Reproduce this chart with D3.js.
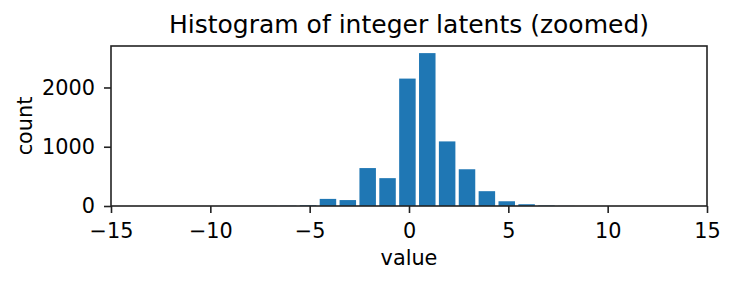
<!DOCTYPE html>
<html lang="en">
<head>
<meta charset="utf-8">
<script src="https://d3js.org/d3.v7.min.js"></script>
<style>
  body { margin: 0; background: #fff; }
  text { font-family: "DejaVu Sans", sans-serif; fill: #000; }
</style>
</head>
<body>
<script>
// integer latent values and their counts
var values = [-7, -6, -5, -4, -3, -2, -1, 0, 1, 2, 3, 4, 5, 6, 7, 8];
var counts = [2, 5, 12, 120, 100, 640, 470, 2150, 2580, 1090, 620, 250, 80, 30, 8, 2];
var xTicks = [-15, -10, -5, 0, 5, 10, 15];
var yTicks = [0, 1000, 2000];

var W = 735, H = 284;
var mLeft = 111, mRight = 707, mTop = 46, mBottom = 206;

var svg = d3.select("body").append("svg")
  .attr("width", W).attr("height", H);

var x = d3.scaleLinear().domain([-15, 15]).range([mLeft, mRight]);
var y = d3.scaleLinear().domain([0, 2700]).range([mBottom, mTop]);

// bars (slightly narrower than a unit, offset like the hist bins)
var bw = 0.83, off = -0.08;
svg.selectAll("rect.bar")
  .data(values)
  .enter().append("rect")
  .attr("class", "bar")
  .attr("x", function(d) { return x(d + off - bw / 2); })
  .attr("width", x(bw) - x(0))
  .attr("y", function(d, i) { return y(counts[i]); })
  .attr("height", function(d, i) { return y(0) - y(counts[i]); })
  .attr("fill", "#1f77b4");

// axes
var xAxis = d3.axisBottom(x).tickValues(xTicks).tickSize(7).tickPadding(10)
  .tickFormat(function(d) { return d < 0 ? "\u2212" + Math.abs(d) : d; });
var yAxis = d3.axisLeft(y).tickValues(yTicks).tickSize(7).tickPadding(9)
  .tickFormat(d3.format("d"));

var gx = svg.append("g").attr("transform", "translate(0," + mBottom + ")").call(xAxis);
var gy = svg.append("g").attr("transform", "translate(" + mLeft + ",0)").call(yAxis);
[gx, gy].forEach(function(g) {
  g.select(".domain").remove();
  g.selectAll(".tick line").attr("stroke", "#222").attr("stroke-width", 1.6);
  g.selectAll(".tick text").style("font-size", "20.8px").attr("fill", "#000");
});

// frame
svg.append("rect")
  .attr("x", mLeft).attr("y", mTop)
  .attr("width", mRight - mLeft).attr("height", mBottom - mTop)
  .attr("fill", "none").attr("stroke", "#222").attr("stroke-width", 1.6);

// labels
svg.append("text")
  .attr("x", (mLeft + mRight) / 2).attr("y", 33)
  .attr("text-anchor", "middle").style("font-size", "25px")
  .text("Histogram of integer latents (zoomed)");

svg.append("text")
  .attr("x", (mLeft + mRight) / 2).attr("y", 265)
  .attr("text-anchor", "middle").style("font-size", "20.8px")
  .text("value");

svg.append("text")
  .attr("transform", "translate(32," + (mTop + mBottom) / 2 + ") rotate(-90)")
  .attr("text-anchor", "middle").style("font-size", "20.8px")
  .text("count");
</script>
</body>
</html>
